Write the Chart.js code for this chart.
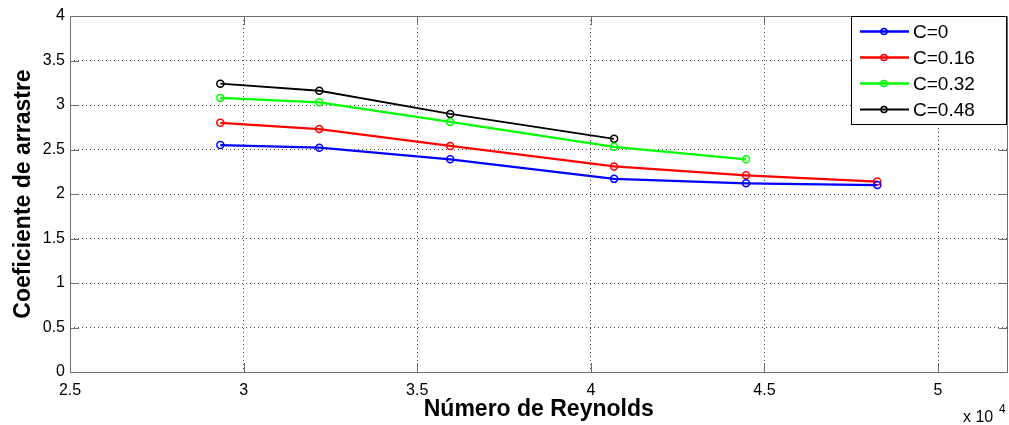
<!DOCTYPE html>
<html>
<head>
<meta charset="utf-8">
<script src="https://cdn.jsdelivr.net/npm/chart.js@4/dist/chart.umd.min.js"></script>
<style>
  html, body { margin: 0; padding: 0; background: #fff; overflow: hidden; }
  canvas { display: block; }
</style>
</head>
<body>
<canvas id="chart" width="1013" height="425"></canvas>
<script>
// Reynolds number (x 10^4)
const reynolds = [2.933, 3.218, 3.595, 4.067, 4.447, 4.825];

// Drag coefficient per series
const cd_c0   = [2.55, 2.52, 2.39, 2.17, 2.12, 2.10];
const cd_c016 = [2.80, 2.73, 2.54, 2.31, 2.21, 2.14];
const cd_c032 = [3.08, 3.03, 2.81, 2.53, 2.39];
const cd_c048 = [3.24, 3.16, 2.90, 2.62];

const seriesLabels = ['C=0', 'C=0.16', 'C=0.32', 'C=0.48'];
const seriesColors = ['#0000ff', '#ff0000', '#00ff00', '#000000'];

const xTicks = [2.5, 3, 3.5, 4, 4.5, 5];
const yTicks = [0, 0.5, 1, 1.5, 2, 2.5, 3, 3.5, 4];

const FONT = '"Liberation Sans", Arial, sans-serif';

function toPoints(ys) {
    return ys.map((y, i) => ({ x: reynolds[i], y: y }));
}

const allSeries = [cd_c0, cd_c016, cd_c032, cd_c048];

const datasets = allSeries.map((ys, i) => ({
    label: seriesLabels[i],
    data: toPoints(ys),
    borderColor: seriesColors[i],
    backgroundColor: '#ffffff',
    borderWidth: i === 3 ? 1.8 : 2.3,
    pointRadius: 3.5,
    pointBorderWidth: 1.5,
    pointBackgroundColor: 'rgba(0,0,0,0)',
    pointBorderColor: seriesColors[i],
    tension: 0
}));

// Box, inward ticks, legend box and x10^4 label (MATLAB style)
const matlabDecor = {
    id: 'matlabDecor',
    afterDatasetsDraw(chart) {
        const { ctx, chartArea: a, scales } = chart;
        ctx.save();
        ctx.strokeStyle = '#6e6e6e';
        ctx.lineWidth = 1;
        ctx.strokeRect(Math.round(a.left) + 0.5, Math.round(a.top) + 0.5,
            Math.round(a.right - a.left) - 1, Math.round(a.bottom - a.top));

        ctx.beginPath();
        xTicks.forEach(v => {
            const px = Math.round(scales.x.getPixelForValue(v)) + 0.5;
            ctx.moveTo(px, a.bottom); ctx.lineTo(px, a.bottom - 9);
            ctx.moveTo(px, a.top); ctx.lineTo(px, a.top + 9);
        });
        yTicks.forEach(v => {
            const py = Math.round(scales.y.getPixelForValue(v)) + 0.5;
            ctx.moveTo(a.left, py); ctx.lineTo(a.left + 9, py);
            ctx.moveTo(a.right, py); ctx.lineTo(a.right - 9, py);
        });
        ctx.stroke();

        // legend
        const lx = 851, ly = 16, lw = 156, lh = 109;
        ctx.fillStyle = '#ffffff';
        ctx.fillRect(lx, ly, lw, lh);
        ctx.strokeStyle = '#000000';
        ctx.strokeRect(lx + 0.5, ly + 0.5, lw - 1, lh - 1);
        ctx.font = '19px ' + FONT;
        ctx.textBaseline = 'middle';
        chart.data.datasets.forEach((ds, i) => {
            const yy = 31.5 + i * 26;
            ctx.strokeStyle = ds.borderColor;
            ctx.lineWidth = ds.borderWidth;
            ctx.beginPath();
            ctx.moveTo(860, yy); ctx.lineTo(909, yy);
            ctx.stroke();
            ctx.lineWidth = 1.5;
            ctx.beginPath();
            ctx.arc(884, yy, 3, 0, Math.PI * 2);
            ctx.stroke();
            ctx.fillStyle = '#000000';
            ctx.textAlign = 'left';
            ctx.fillText(ds.label, 913, yy + 1);
        });

        // exponent label
        ctx.fillStyle = '#000000';
        ctx.font = '16px ' + FONT;
        ctx.textAlign = 'left';
        ctx.textBaseline = 'alphabetic';
        ctx.fillText('x 10', 963, 422);
        ctx.font = '12px ' + FONT;
        ctx.fillText('4', 999, 413);
        ctx.restore();
    }
};

new Chart(document.getElementById('chart'), {
    type: 'line',
    data: { datasets: datasets },
    plugins: [matlabDecor],
    options: {
        responsive: false,
        animation: false,
        layout: { padding: { top: 16, right: 2, left: 0, bottom: 0 } },
        plugins: {
            legend: { display: false },
            tooltip: { enabled: false }
        },
        scales: {
            x: {
                type: 'linear',
                min: 2.5,
                max: 5.2,
                afterBuildTicks: (s) => { s.ticks = xTicks.map(v => ({ value: v })); },
                afterFit: (s) => { s.height = 53; },
                grid: {
                    color: '#444444',
                    lineWidth: 1,
                    drawTicks: false
                },
                border: { display: false, dash: [1, 3] },
                ticks: {
                    color: '#000000',
                    padding: 9,
                    font: { family: FONT, size: 16 },
                    callback: (v) => String(v)
                },
                title: {
                    display: true,
                    text: 'Número de Reynolds',
                    color: '#000000',
                    padding: { top: 0, bottom: 2 },
                    font: { family: FONT, size: 23, weight: 'bold' }
                }
            },
            y: {
                min: 0,
                max: 4,
                afterBuildTicks: (s) => { s.ticks = yTicks.map(v => ({ value: v })); },
                afterFit: (s) => { s.width = 70; },
                grid: {
                    color: '#444444',
                    lineWidth: 1,
                    drawTicks: false
                },
                border: { display: false, dash: [1, 3] },
                ticks: {
                    color: '#000000',
                    padding: 5,
                    font: { family: FONT, size: 16 },
                    callback: (v) => String(v)
                },
                title: {
                    display: true,
                    text: 'Coeficiente de arrastre',
                    color: '#000000',
                    padding: { top: 10, bottom: 0 },
                    font: { family: FONT, size: 23, weight: 'bold' }
                }
            }
        }
    }
});
</script>
</body>
</html>
